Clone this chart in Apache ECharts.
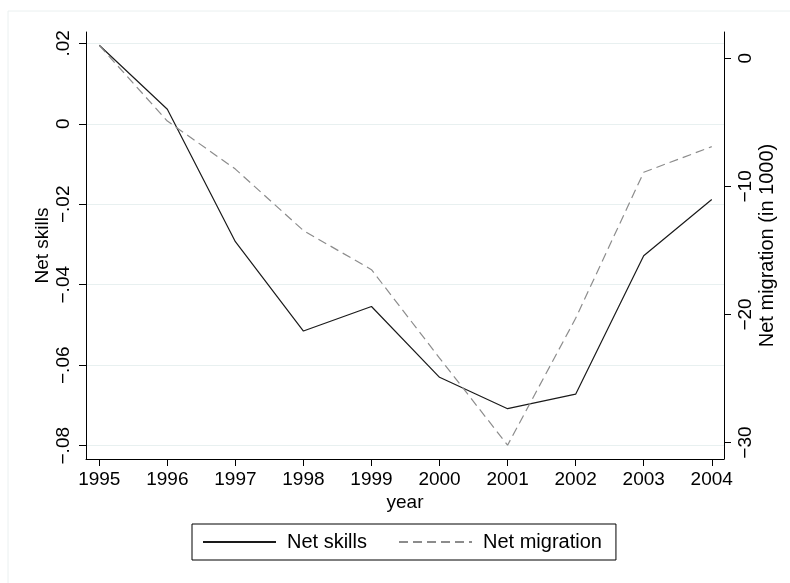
<!DOCTYPE html>
<html>
<head>
<meta charset="utf-8">
<script src="https://cdn.jsdelivr.net/npm/echarts@6/dist/echarts.min.js"></script>
<style>
html,body{margin:0;padding:0;background:#fff;}
#c{width:790px;height:583px;}
</style>
</head>
<body>
<div id="c"></div>
<script>
var years = [1995, 1996, 1997, 1998, 1999, 2000, 2001, 2002, 2003, 2004];
var netSkills = [0.0195, 0.0036, -0.0293, -0.0515, -0.0454, -0.0630, -0.0708, -0.0672, -0.0328, -0.0188];
var netMigration = [1.0, -4.9, -8.65, -13.45, -16.5, -23.4, -30.2, -20.3, -8.9, -6.9];
var leftTickValues = [-0.08, -0.06, -0.04, -0.02, 0, 0.02];
var leftTickLabels = ['\u2212.08', '\u2212.06', '\u2212.04', '\u2212.02', '0', '.02'];
var rightTickValues = [-30, -20, -10, 0];
var rightTickLabels = ['\u221230', '\u221220', '\u221210', '0'];

function lookup(vals, labs) {
  return function (v) {
    for (var i = 0; i < vals.length; i++) {
      if (Math.abs(vals[i] - v) < 1e-6) return labs[i];
    }
    return '';
  };
}
function pairs(xs, ys) {
  return xs.map(function (x, i) { return [x, ys[i]]; });
}

var FONT = 'Liberation Sans, Arial, sans-serif';
var chart = echarts.init(document.getElementById('c'), null, {renderer: 'canvas'});
chart.setOption({
  animation: false,
  backgroundColor: '#ffffff',
  textStyle: {fontFamily: FONT, color: '#000'},
  graphic: [{
    type: 'rect',
    shape: {x: 8, y: 11, width: 800, height: 600},
    style: {fill: 'none', stroke: '#eaf0f0', lineWidth: 1},
    silent: true, z: -10
  }],
  grid: {left: 86, right: 66, top: 32, bottom: 124, containLabel: false},
  xAxis: {
    type: 'value',
    min: 1994.805,
    max: 2004.18,
    name: 'year',
    nameLocation: 'middle',
    nameGap: 34,
    nameMoveOverlap: false,
    nameTextStyle: {fontSize: 19, fontFamily: FONT, color: '#000'},
    axisLine: {show: true, onZero: false, lineStyle: {color: '#000', width: 1}},
    axisTick: {show: true, length: 7, customValues: years, lineStyle: {color: '#000'}},
    axisLabel: {customValues: years, fontSize: 19, fontFamily: FONT, color: '#000', margin: 11,
      formatter: function (v) { return String(Math.round(v)); }},
    splitLine: {show: false}
  },
  yAxis: [{
    type: 'value',
    position: 'left',
    min: -0.0833,
    max: 0.0228,
    name: 'Net skills',
    nameLocation: 'middle',
    nameGap: 34,
    nameMoveOverlap: false,
    nameRotate: 90,
    nameTextStyle: {fontSize: 19, fontFamily: FONT, color: '#000'},
    axisLine: {show: true, onZero: false, lineStyle: {color: '#000', width: 1}},
    axisTick: {show: true, length: 7, customValues: leftTickValues, lineStyle: {color: '#000'}},
    axisLabel: {customValues: leftTickValues, rotate: 90, fontSize: 19, fontFamily: FONT, color: '#000', margin: 13,
      formatter: lookup(leftTickValues, leftTickLabels)},
    splitLine: {show: true, lineStyle: {color: '#e8f0f0', width: 1}}
  }, {
    type: 'value',
    position: 'right',
    min: -31.28,
    max: 2.05,
    name: 'Net migration (in 1000)',
    nameLocation: 'middle',
    nameGap: 33,
    nameMoveOverlap: false,
    nameRotate: 90,
    nameTextStyle: {fontSize: 20, fontFamily: FONT, color: '#000'},
    axisLine: {show: true, onZero: false, lineStyle: {color: '#000', width: 1}},
    axisTick: {show: true, length: 7, customValues: rightTickValues, lineStyle: {color: '#000'}},
    axisLabel: {customValues: rightTickValues, rotate: 90, fontSize: 19, fontFamily: FONT, color: '#000', margin: 12,
      formatter: lookup(rightTickValues, rightTickLabels)},
    splitLine: {show: false}
  }],
  legend: {
    left: 192,
    top: 524,
    orient: 'horizontal',
    padding: [8, 14, 8, 10],
    itemWidth: 73,
    itemHeight: 14,
    itemGap: 31,
    borderColor: '#000',
    borderWidth: 1,
    itemStyle: {color: 'rgba(0,0,0,0)', borderWidth: 0, opacity: 0},
    textStyle: {fontSize: 20, fontFamily: FONT, color: '#000', padding: [0, 0, 0, 6]},
    data: ['Net skills', 'Net migration']
  },
  series: [{
    name: 'Net skills',
    type: 'line',
    yAxisIndex: 0,
    symbol: 'none',
    data: pairs(years, netSkills),
    lineStyle: {color: '#1a1a1a', width: 1.2, type: 'solid'},
    itemStyle: {color: '#1a1a1a'}
  }, {
    name: 'Net migration',
    type: 'line',
    yAxisIndex: 1,
    symbol: 'none',
    data: pairs(years, netMigration),
    lineStyle: {color: '#8c8c8c', width: 1.2, type: [9, 5]},
    itemStyle: {color: '#8c8c8c'}
  }]
});
</script>
</body>
</html>
